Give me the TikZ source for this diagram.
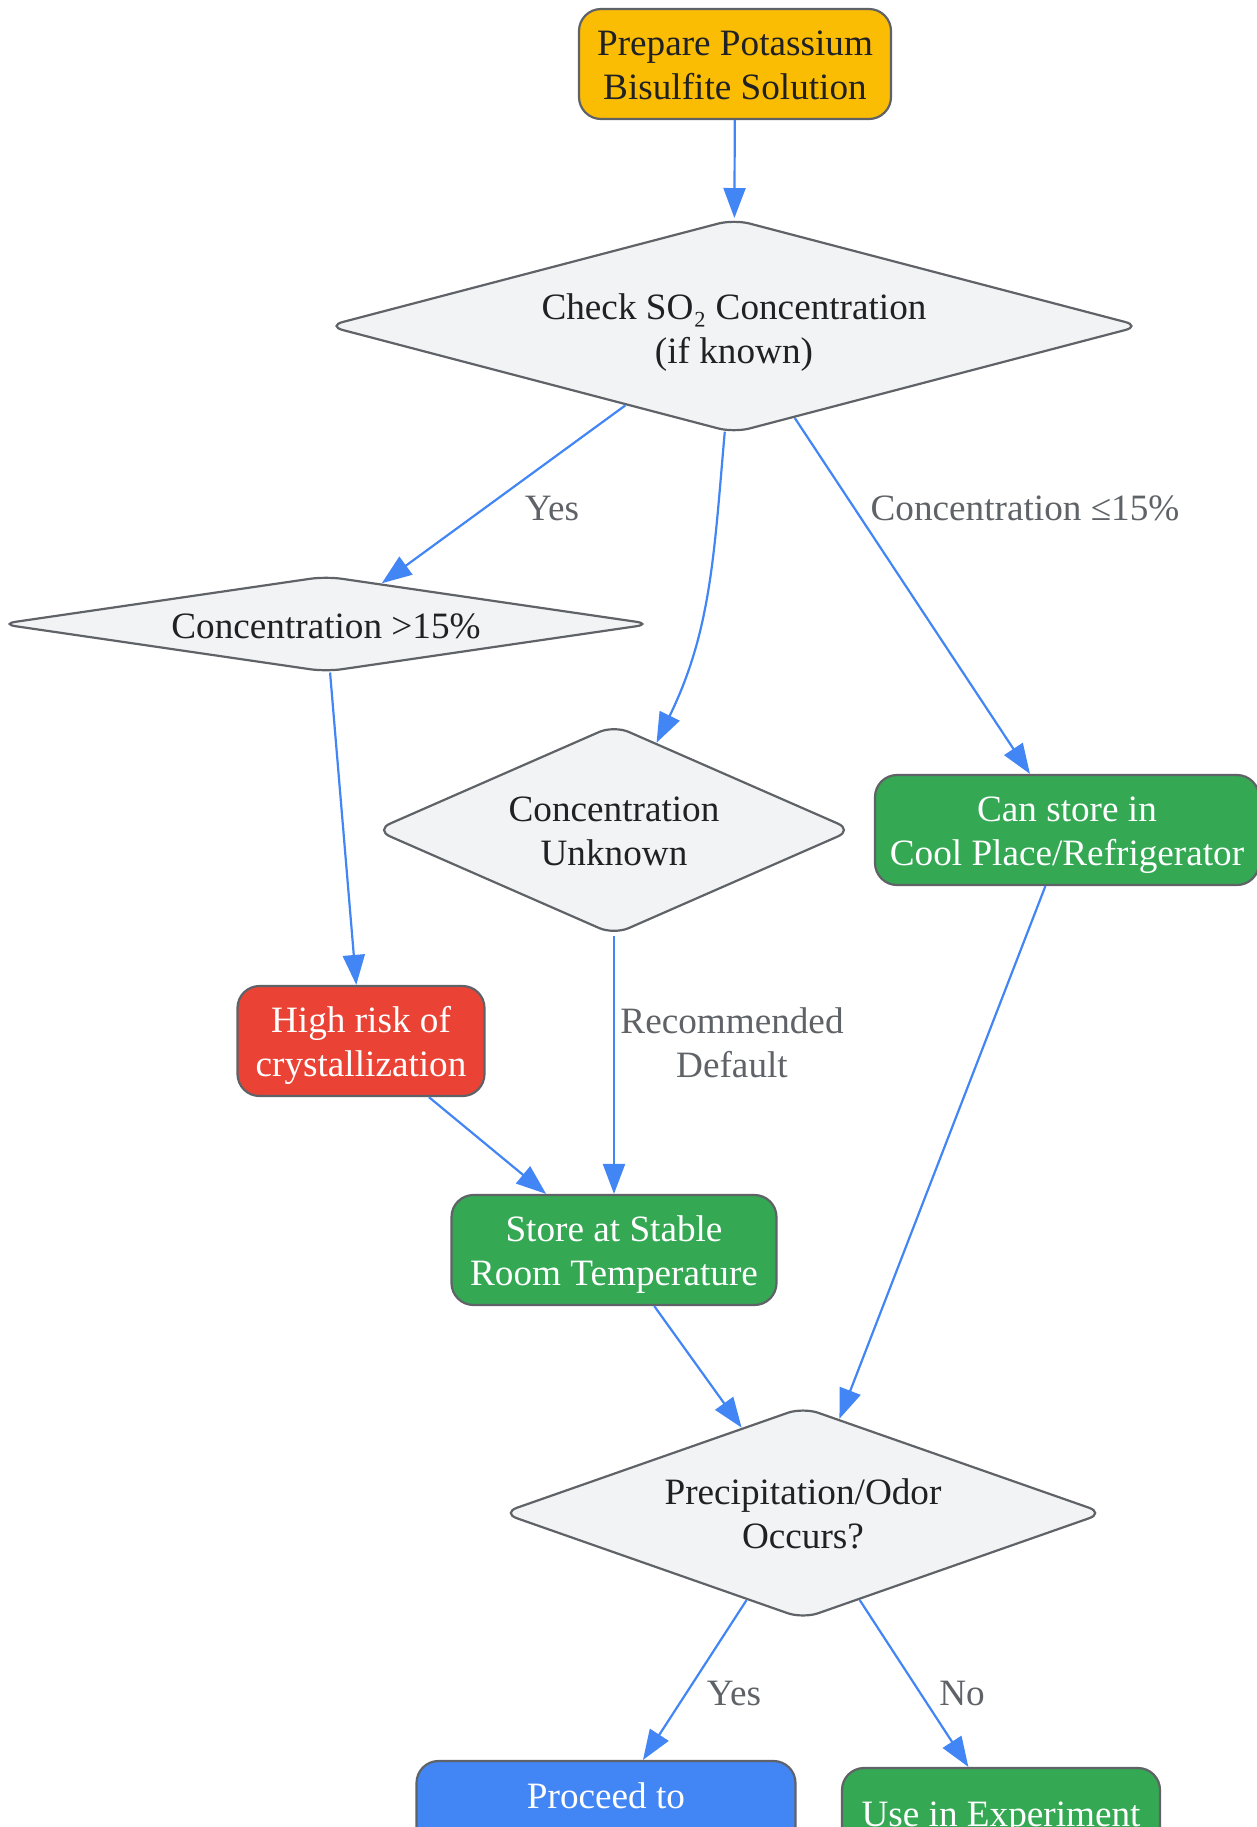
\documentclass[tikz,border=0pt]{standalone}
\usepackage{fontspec}
\setmainfont{Liberation Serif}
\usetikzlibrary{shapes.geometric,arrows.meta}
\definecolor{edgeblue}{HTML}{4285F4}
\definecolor{bordergrey}{HTML}{5F6368}
\definecolor{labelgrey}{HTML}{5F6368}
\definecolor{darktext}{HTML}{202124}
\definecolor{decisiongrey}{HTML}{F1F3F4}
\definecolor{startyellow}{HTML}{FBBC04}
\definecolor{okgreen}{HTML}{34A853}
\definecolor{riskred}{HTML}{EA4335}
\definecolor{nextblue}{HTML}{4285F4}

\begin{document}
\begin{tikzpicture}[%
x=0.5pt, y=-0.5pt,
every node/.style={font=\fontsize{18.6}{22}\selectfont, align=center},
box/.style={draw=bordergrey, line width=1.1pt, rounded corners=11pt, minimum height=55pt, inner sep=0pt, text height=39.3pt},
decision/.style={diamond, draw=bordergrey, fill=decisiongrey, text=darktext, line width=1.1pt, rounded corners=8pt, inner sep=0pt},
flow/.style={draw=edgeblue, line width=1.1pt, ->},
lbl/.style={text=labelgrey},
>={Triangle[length=15pt,width=11pt]},
]
\useasboundingbox (0,0) rectangle (1257,1827);
%% start;
\node[box, fill=startyellow, text=darktext, minimum width=156pt, text height=35.8pt] (prep) at (735,64) {Prepare Potassium\\Bisulfite Solution};
%% decisions;
\node[decision, minimum width=407pt, minimum height=107pt, shape aspect=3.8, text height=41.7pt] (check) at (734,326) {Check SO₂ Concentration\\(if known)};
\node[decision, minimum width=326pt, minimum height=48pt, shape aspect=6.8, text height=15pt] (high) at (326,624) {Concentration >15\%};
\node[decision, minimum width=239pt, minimum height=105pt, shape aspect=2.28, text height=35.9pt] (unknown) at (614,830) {Concentration\\Unknown};
\node[decision, minimum width=301.5pt, minimum height=106pt, shape aspect=2.84, text height=35.9pt] (occurs) at (803,1513) {Precipitation/Odor\\Occurs?};
%% outcomes;
\node[box, fill=okgreen, text=white, minimum width=192pt] (cool) at (1067,830) {Can store in\\Cool Place/Refrigerator};
\node[box, fill=riskred, text=white, minimum width=123.5pt] (risk) at (361,1041) {High risk of\\crystallization};
\node[box, fill=okgreen, text=white, minimum width=162.5pt] (room) at (614,1250) {Store at Stable\\Room Temperature};
\node[box, fill=nextblue, text=white, minimum width=189.5pt, minimum height=56pt, text height=13.5pt, text depth=22pt] (proceed) at (606,1817) {Proceed to};
\node[box, fill=okgreen, text=white, minimum width=159pt, minimum height=49pt, text height=13pt] (use) at (1001,1817) {Use in Experiment};
%% edges;
\draw[flow] (prep) -- (check);
\draw[flow] (check) -- (high);
\draw[flow] (check) to[out=-95, in=64] (unknown);
\draw[flow] (check) -- (cool);
\draw[flow] (high) -- (risk);
\draw[flow] (unknown) -- (room);
\draw[flow] (risk) -- (room);
\draw[flow] (room) -- (occurs);
\draw[flow] (cool) -- (occurs);
\draw[flow] (occurs) -- (proceed);
\draw[flow] (occurs) -- (use);
%% labels;
\node[lbl] (lyes1) at (552,508) {Yes};
\node[lbl] (lle) at (1025,508) {Concentration ≤15\%};
\node[lbl] (ldef) at (732,1043) {Recommended\\Default};
\node[lbl] (lyes2) at (734,1693) {Yes};
\node[lbl] (lno) at (962,1693) {No};
\end{tikzpicture}
\end{document}
